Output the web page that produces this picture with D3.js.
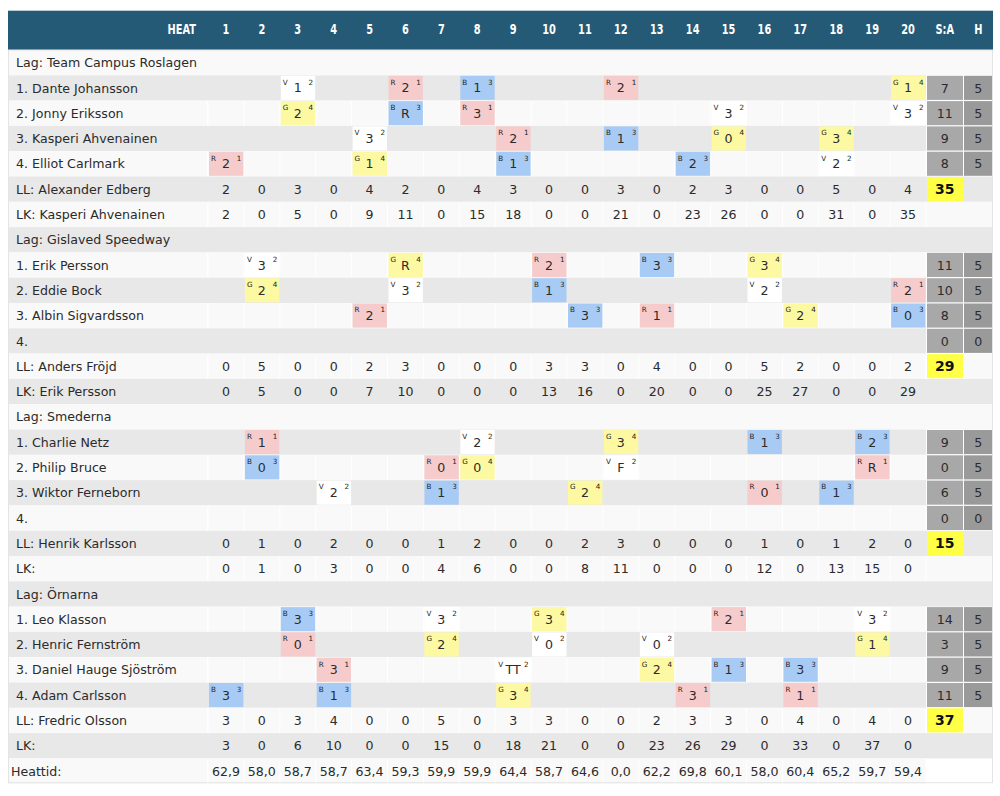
<!DOCTYPE html>
<html><head><meta charset="utf-8">
<script src="https://cdn.jsdelivr.net/npm/d3@7/dist/d3.min.js"></script>
<style>
html,body{margin:0;padding:0;background:#fff;}
svg{display:block;}
</style></head><body>
<svg id="chart" width="1000" height="796"></svg>
<script>
// ---------------- DATA ----------------
const heatLabels = ["1","2","3","4","5","6","7","8","9","10","11","12","13","14","15","16","17","18","19","20"];
const headerFirst = "HEAT";
const headerSA = "S:A";
const headerH = "H";
const teamNames = ["Team Campus Roslagen","Gislaved Speedway","Smederna","Örnarna"];
const riderNames = [
  ["1. Dante Johansson","2. Jonny Eriksson","3. Kasperi Ahvenainen","4. Elliot Carlmark"],
  ["1. Erik Persson","2. Eddie Bock","3. Albin Sigvardsson","4."],
  ["1. Charlie Netz","2. Philip Bruce","3. Wiktor Ferneborn","4."],
  ["1. Leo Klasson","2. Henric Fernström","3. Daniel Hauge Sjöström","4. Adam Carlsson"]
];
// each ride: [heat, helmet colour, result, gate]
const rides = [
  [
    [[3,"V","1",2],[6,"R","2",1],[8,"B","1",3],[12,"R","2",1],[20,"G","1",4]],
    [[3,"G","2",4],[6,"B","R",3],[8,"R","3",1],[15,"V","3",2],[20,"V","3",2]],
    [[5,"V","3",2],[9,"R","2",1],[12,"B","1",3],[15,"G","0",4],[18,"G","3",4]],
    [[1,"R","2",1],[5,"G","1",4],[9,"B","1",3],[14,"B","2",3],[18,"V","2",2]]
  ],
  [
    [[2,"V","3",2],[6,"G","R",4],[10,"R","2",1],[13,"B","3",3],[16,"G","3",4]],
    [[2,"G","2",4],[6,"V","3",2],[10,"B","1",3],[16,"V","2",2],[20,"R","2",1]],
    [[5,"R","2",1],[11,"B","3",3],[13,"R","1",1],[17,"G","2",4],[20,"B","0",3]],
    []
  ],
  [
    [[2,"R","1",1],[8,"V","2",2],[12,"G","3",4],[16,"B","1",3],[19,"B","2",3]],
    [[2,"B","0",3],[7,"R","0",1],[8,"G","0",4],[12,"V","F",2],[19,"R","R",1]],
    [[4,"V","2",2],[7,"B","1",3],[11,"G","2",4],[16,"R","0",1],[18,"B","1",3]],
    []
  ],
  [
    [[3,"B","3",3],[7,"V","3",2],[10,"G","3",4],[15,"R","2",1],[19,"V","3",2]],
    [[3,"R","0",1],[7,"G","2",4],[10,"V","0",2],[13,"V","0",2],[19,"G","1",4]],
    [[4,"R","3",1],[9,"V","TT",2],[13,"G","2",4],[15,"B","1",3],[17,"B","3",3]],
    [[1,"B","3",3],[4,"B","1",3],[9,"G","3",4],[14,"R","3",1],[17,"R","1",1]]
  ]
];
const riderPoints = [[7,11,9,8],[11,10,8,0],[9,0,6,0],[14,3,9,11]];
const riderHeats  = [[5,5,5,5],[5,5,5,0],[5,5,5,0],[5,5,5,5]];
const llNames = ["Alexander Edberg","Anders Fröjd","Henrik Karlsson","Fredric Olsson"];
const llPoints = [
  [2,0,3,0,4,2,0,4,3,0,0,3,0,2,3,0,0,5,0,4],
  [0,5,0,0,2,3,0,0,0,3,3,0,4,0,0,5,2,0,0,2],
  [0,1,0,2,0,0,1,2,0,0,2,3,0,0,0,1,0,1,2,0],
  [3,0,3,4,0,0,5,0,3,3,0,0,2,3,3,0,4,0,4,0]
];
const teamTotals = [35,29,15,37];
const lkNames = ["Kasperi Ahvenainen","Erik Persson","",""];
const lkPoints = [
  [2,0,5,0,9,11,0,15,18,0,0,21,0,23,26,0,0,31,0,35],
  [0,5,0,0,7,10,0,0,0,13,16,0,20,0,0,25,27,0,0,29],
  [0,1,0,3,0,0,4,6,0,0,8,11,0,0,0,12,0,13,15,0],
  [3,0,6,10,0,0,15,0,18,21,0,0,23,26,29,0,33,0,37,0]
];
const heatTimeLabel = "Heattid:";
const heatTimes = ["62,9","58,0","58,7","58,7","63,4","59,3","59,9","59,9","64,4","58,7","64,6","0,0","62,2","69,8","60,1","58,0","60,4","65,2","59,7","59,4"];

// ---------------- STYLE ----------------
const helmetFill = {R:"#f6cbcb", B:"#a8cbf5", G:"#fdf9a3", V:"#ffffff"};
const FONT = "'DejaVu Sans', sans-serif";
const HFONT = "'Liberation Sans Narrow','DejaVu Sans Condensed','Liberation Sans',sans-serif";
const grayRow = "#e8e8e8", lightRow = "#f9f9f9";
const textCol = "#2b2b2b";

// ---------------- ROWS ----------------
const rows = [];
teamNames.forEach((t, ti) => {
  rows.push({type:"lag", label:"Lag: " + t});
  riderNames[ti].forEach((r, ri) => rows.push({type:"rider", label:r, rides:rides[ti][ri], sa:riderPoints[ti][ri], h:riderHeats[ti][ri]}));
  rows.push({type:"ll", label:"LL: " + llNames[ti], vals:llPoints[ti], total:teamTotals[ti]});
  rows.push({type:"lk", label:"LK: " + lkNames[ti], vals:lkPoints[ti]});
});
rows.push({type:"time", label:heatTimeLabel, vals:heatTimes});

// ---------------- SCALES ----------------
const L = 8, NAMER = 208, HEATR = 926, SAR = 963.5, R = 993;
const HEADT = 10.7, HEADB = 50, BOTTOM = 783.7;
const x = d3.scaleBand().domain(heatLabels).range([NAMER, HEATR]);
const y = d3.scaleBand().domain(d3.range(rows.length)).range([HEADB, BOTTOM]);
const bw = x.bandwidth(), bh = y.bandwidth();

const svg = d3.select("#chart");

// header
svg.append("rect").attr("x", L).attr("y", HEADT).attr("width", R - L).attr("height", HEADB - HEADT).attr("fill", "#255a76");
const headerItems = [{t:headerFirst, x:196, a:"end"}]
  .concat(heatLabels.map(h => ({t:h, x:x(h) + bw/2, a:"middle"})))
  .concat([{t:headerSA, x:(HEATR + SAR)/2, a:"middle"}, {t:headerH, x:(SAR + R)/2, a:"middle"}]);
svg.append("g").selectAll("text").data(headerItems).join("text")
  .attr("transform", d => `translate(${d.x},34.3) scale(0.78,1)`)
  .attr("text-anchor", d => d.a)
  .attr("font-family", HFONT).attr("font-weight", "bold").attr("font-size", 14)
  .attr("fill", "#fff").text(d => d.t);

// body
const g = svg.append("g");
rows.forEach((row, i) => {
  const y0 = y(i);
  const gray = i % 2 === 1;
  const rg = g.append("g");
  const bg = gray ? grayRow : lightRow;
  // background
  if (row.type === "lag") {
    rg.append("rect").attr("x", L).attr("y", y0).attr("width", R - L).attr("height", bh).attr("fill", bg);
  } else if (gray) {
    const right = row.type === "rider" ? HEATR : R;
    rg.append("rect").attr("x", L).attr("y", y0).attr("width", right - L).attr("height", bh).attr("fill", bg);
  } else {
    rg.append("rect").attr("x", L).attr("y", y0).attr("width", NAMER - L - 1).attr("height", bh).attr("fill", bg);
    rg.selectAll("rect.c").data(heatLabels).join("rect").attr("class", "c")
      .attr("x", h => x(h) + 0.5).attr("y", y0).attr("width", bw - 1).attr("height", bh).attr("fill", bg);
    if (row.type === "ll") {
      rg.append("rect").attr("x", SAR + 0.5).attr("y", y0).attr("width", R - SAR - 0.5).attr("height", bh).attr("fill", bg);
    } else if (row.type === "lk") {
      rg.append("rect").attr("x", HEATR + 0.5).attr("y", y0).attr("width", R - HEATR - 0.5).attr("height", bh).attr("fill", bg);
    }
  }
  // label
  rg.append("text").attr("x", row.type === "time" ? 11 : 16).attr("y", y0 + 17.2)
    .attr("font-family", FONT).attr("font-size", 12.6).attr("fill", textCol).text(row.label);

  if (row.type === "rider") {
    const cell = rg.selectAll("g.ride").data(row.rides).join("g").attr("class", "ride")
      .attr("transform", d => `translate(${x(String(d[0]))},${y0})`);
    cell.append("rect").attr("x", 1).attr("y", 0.5).attr("width", bw - 1.5).attr("height", bh - 1.2)
      .attr("fill", d => helmetFill[d[1]]);
    cell.append("text").attr("x", 3).attr("y", 9.4).attr("font-family", FONT).attr("font-size", 7.2)
      .attr("fill", "#222").text(d => d[1]);
    cell.append("text").attr("x", bw - 2.5).attr("y", 9.4).attr("text-anchor", "end").attr("font-family", FONT).attr("font-size", 7.2)
      .attr("fill", "#222").text(d => d[3]);
    cell.append("text").attr("x", bw/2).attr("y", 17.2).attr("text-anchor", "middle").attr("font-family", FONT).attr("font-size", 12.6)
      .attr("fill", textCol).text(d => d[2]);
    // S:A and H
    rg.append("rect").attr("x", HEATR + 1).attr("y", y0 + 0.5).attr("width", SAR - HEATR - 1.5).attr("height", bh - 1.2).attr("fill", "#a8a8a8");
    rg.append("rect").attr("x", SAR + 0.5).attr("y", y0 + 0.5).attr("width", R - SAR - 0.5).attr("height", bh - 1.2).attr("fill", "#9a9a9a");
    rg.append("text").attr("x", (HEATR + SAR)/2).attr("y", y0 + 17.2).attr("text-anchor", "middle")
      .attr("font-family", FONT).attr("font-size", 12.6).attr("fill", textCol).text(row.sa);
    rg.append("text").attr("x", (SAR + R)/2).attr("y", y0 + 17.2).attr("text-anchor", "middle")
      .attr("font-family", FONT).attr("font-size", 12.6).attr("fill", textCol).text(row.h);
  }
  if (row.type === "ll" || row.type === "lk" || row.type === "time") {
    rg.selectAll("text.v").data(row.vals).join("text").attr("class", "v")
      .attr("x", (d, k) => x(heatLabels[k]) + bw/2).attr("y", y0 + 17.2).attr("text-anchor", "middle")
      .attr("font-family", FONT).attr("font-size", 12.6).attr("fill", textCol).text(d => d);
  }
  if (row.type === "ll") {
    rg.append("rect").attr("x", HEATR + 1).attr("y", y0 + 0.5).attr("width", SAR - HEATR - 1.5).attr("height", bh - 1.2).attr("fill", "#ffff45");
    rg.append("text").attr("x", (HEATR + SAR)/2).attr("y", y0 + 17.6).attr("text-anchor", "middle")
      .attr("font-family", FONT).attr("font-size", 14).attr("font-weight", "bold").attr("fill", "#111").text(row.total);
  }
});
// outer light border
svg.append("rect").attr("x", L + 0.5).attr("y", HEADB).attr("width", R - L - 1).attr("height", BOTTOM - HEADB - 1)
  .attr("fill", "none").attr("stroke", "#e4e4e4").attr("stroke-width", 1);
</script>
</body></html>
